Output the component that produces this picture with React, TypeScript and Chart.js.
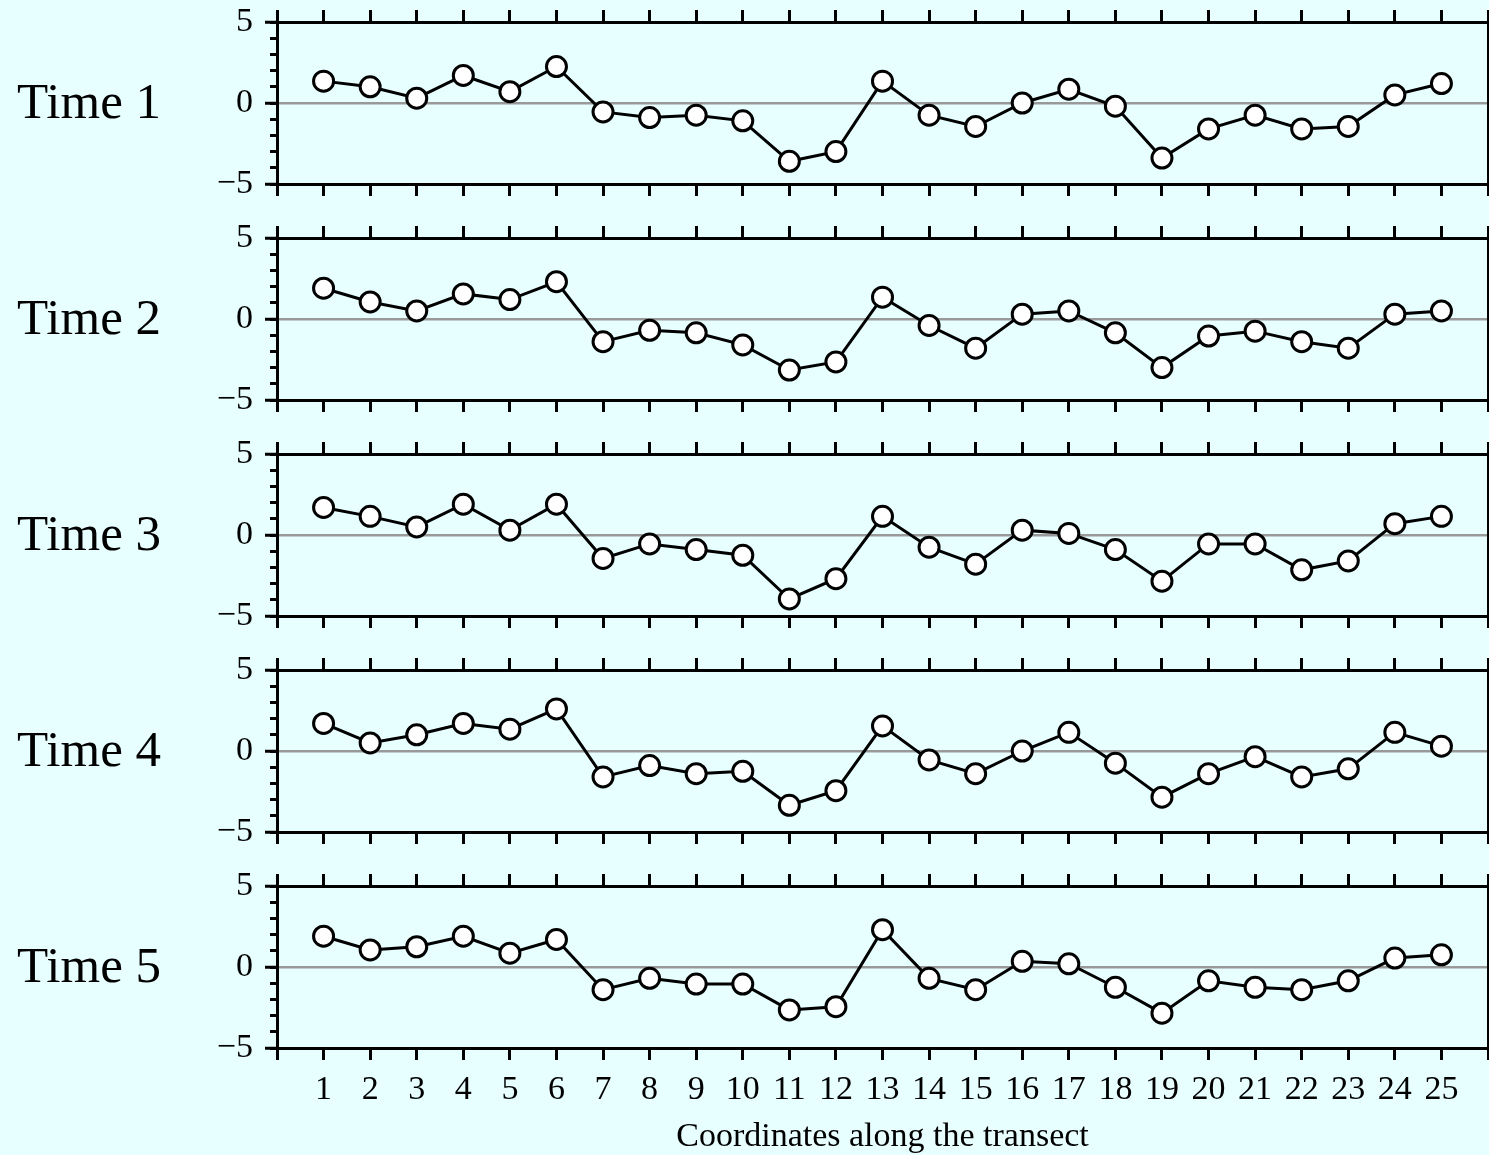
import React, { useEffect, useRef } from "react";
import { Chart, registerables } from "chart.js";

Chart.register(...registerables);

const coords = [1, 2, 3, 4, 5, 6, 7, 8, 9, 10, 11, 12, 13, 14, 15, 16, 17, 18, 19, 20, 21, 22, 23, 24, 25];

const panelLabels = ["Time 1", "Time 2", "Time 3", "Time 4", "Time 5"];

const time1 = [1.35, 1.0, 0.3, 1.7, 0.7, 2.25, -0.55, -0.9, -0.75, -1.1, -3.6, -3.0, 1.35, -0.75, -1.45, 0.0, 0.85, -0.2, -3.4, -1.6, -0.75, -1.6, -1.45, 0.5, 1.2];
const time2 = [1.9, 1.05, 0.5, 1.55, 1.2, 2.3, -1.4, -0.7, -0.85, -1.6, -3.15, -2.65, 1.35, -0.4, -1.8, 0.3, 0.5, -0.85, -3.0, -1.05, -0.75, -1.4, -1.8, 0.3, 0.5];
const time3 = [1.7, 1.15, 0.5, 1.9, 0.3, 1.9, -1.45, -0.55, -0.9, -1.25, -3.95, -2.7, 1.15, -0.75, -1.8, 0.3, 0.1, -0.9, -2.85, -0.55, -0.55, -2.15, -1.6, 0.7, 1.15];
const time4 = [1.7, 0.5, 1.0, 1.7, 1.35, 2.6, -1.6, -0.9, -1.4, -1.25, -3.35, -2.45, 1.55, -0.55, -1.4, 0.0, 1.15, -0.75, -2.85, -1.4, -0.35, -1.6, -1.1, 1.15, 0.3];
const time5 = [1.9, 1.05, 1.25, 1.9, 0.85, 1.7, -1.4, -0.7, -1.05, -1.05, -2.65, -2.45, 2.3, -0.7, -1.4, 0.35, 0.2, -1.25, -2.85, -0.85, -1.25, -1.4, -0.85, 0.55, 0.75];

const series = [time1, time2, time3, time4, time5];

const xTitle = "Coordinates along the transect";
const xMin = 0;
const xMax = 26;
const yMin = -5;
const yMax = 5;
const yLabelTicks = [-5, 0, 5];

const BG = "#e8ffff";
const FONT = "'Liberation Serif', 'Times New Roman', serif";
const W = 1489;
const PANEL_PITCH = 216;
const AREA_TOP = 22;
const AREA_H = 162;
const AREA_LEFT = 277;
const LW = 3;

const zeroPad = (s: any) => {
  s.paddingTop = 0;
  s.paddingBottom = 0;
  s.paddingLeft = 0;
  s.paddingRight = 0;
};

function Panel({ index }: { index: number }) {
  const ref = useRef<HTMLCanvasElement | null>(null);
  const isLast = index === series.length - 1;
  const height = isLast ? 1155 - PANEL_PITCH * index : PANEL_PITCH;
  const bottomH = height - AREA_TOP - AREA_H;

  useEffect(() => {
    if (!ref.current) return;
    const vals = series[index];
    const xTickCommon = {
      stepSize: 1,
      autoSkip: false,
      maxRotation: 0,
      minRotation: 0,
    };
    const chart = new Chart(ref.current, {
      type: "line",
      data: {
        datasets: [
          {
            data: coords.map((c, i) => ({ x: c, y: vals[i] })),
            borderColor: "#000",
            borderWidth: LW,
            pointRadius: 10,
            pointBorderWidth: LW,
            pointBackgroundColor: "#fff",
            pointBorderColor: "#000",
            tension: 0,
            xAxisID: "x",
            yAxisID: "y",
          },
        ],
      },
      options: {
        responsive: false,
        animation: false,
        events: [],
        layout: { padding: 0, autoPadding: false },
        plugins: { legend: { display: false }, tooltip: { enabled: false } },
        scales: {
          x: {
            type: "linear",
            position: "bottom",
            min: xMin,
            max: xMax,
            ticks: {
              ...xTickCommon,
              color: "#000",
              font: { family: FONT, size: 34 },
              padding: 10,
              callback: (v: any) => (isLast && v >= 1 && v <= 25 ? String(v) : ""),
            },
            grid: {
              drawOnChartArea: false,
              drawTicks: true,
              tickLength: 12,
              tickColor: "#000",
              tickWidth: LW,
            },
            border: { display: true, color: "#000", width: LW },
            title: {
              display: isLast,
              text: xTitle,
              color: "#000",
              font: { family: FONT, size: 34, lineHeight: 1 },
              padding: { top: 0, bottom: 1 },
            },
            afterFit: (s: any) => {
              s.height = bottomH;
              zeroPad(s);
            },
          },
          xTop: {
            type: "linear",
            position: "top",
            min: xMin,
            max: xMax,
            ticks: { ...xTickCommon, display: false },
            grid: {
              drawOnChartArea: false,
              drawTicks: true,
              tickLength: 12,
              tickColor: "#000",
              tickWidth: LW,
            },
            border: { display: true, color: "#000", width: LW },
            afterFit: (s: any) => {
              s.height = AREA_TOP;
              zeroPad(s);
            },
          },
          y: {
            type: "linear",
            position: "left",
            weight: 1,
            min: yMin,
            max: yMax,
            afterBuildTicks: (s: any) => {
              s.ticks = yLabelTicks.map((v) => ({ value: v }));
            },
            ticks: {
              color: "#000",
              font: { family: FONT, size: 34 },
              padding: 12,
              callback: (v: any) => String(v).replace("-", "\u2212"),
            },
            grid: {
              drawOnChartArea: true,
              color: (ctx: any) => (ctx.tick && ctx.tick.value === 0 ? "#999999" : "rgba(0,0,0,0)"),
              lineWidth: 2.5,
              drawTicks: true,
              tickLength: 12,
              tickColor: "#000",
              tickWidth: LW,
            },
            border: { display: true, color: "#000", width: LW },
            afterFit: (s: any) => {
              s.width = AREA_LEFT;
              zeroPad(s);
            },
          },
          yMinor: {
            type: "linear",
            position: "left",
            weight: 0,
            min: yMin,
            max: yMax,
            ticks: { stepSize: 1, display: false },
            grid: {
              drawOnChartArea: false,
              drawTicks: true,
              tickLength: 7,
              tickColor: "#000",
              tickWidth: LW,
            },
            border: { display: false },
            afterFit: (s: any) => {
              s.width = 0;
              zeroPad(s);
            },
          },
          yRight: {
            type: "linear",
            position: "right",
            min: yMin,
            max: yMax,
            ticks: { display: false },
            grid: { display: false },
            border: { display: true, color: "#000", width: LW },
            afterFit: (s: any) => {
              s.width = 1;
              zeroPad(s);
            },
          },
        },
      } as any,
    });
    return () => chart.destroy();
  }, [index]);

  return (
    <div style={{ position: "absolute", left: 0, top: PANEL_PITCH * index, width: W, height }}>
      <canvas ref={ref} width={W} height={height} style={{ display: "block" }} />
      <div
        style={{
          position: "absolute",
          left: 17,
          top: AREA_TOP + AREA_H / 2 - 27,
          fontFamily: FONT,
          fontSize: 51,
          lineHeight: "51px",
          color: "#000",
          whiteSpace: "nowrap",
        }}
      >
        {panelLabels[index]}
      </div>
    </div>
  );
}

export default function App() {
  return (
    <div
      style={{
        position: "absolute",
        left: 0,
        top: 0,
        width: W,
        height: 1155,
        background: BG,
        overflow: "hidden",
      }}
    >
      {series.map((_, i) => (
        <Panel key={i} index={i} />
      ))}
    </div>
  );
}
